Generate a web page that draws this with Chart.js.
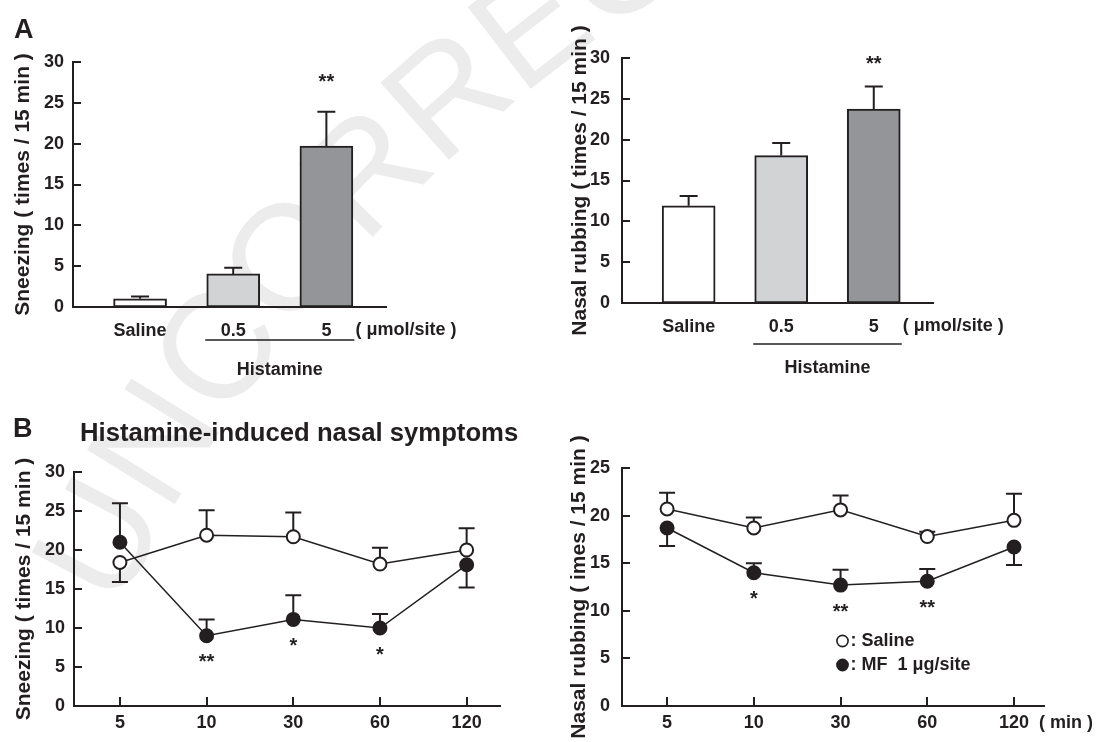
<!DOCTYPE html>
<html>
<head>
<meta charset="utf-8">
<script src="https://cdn.jsdelivr.net/npm/chart.js@4.4.0/dist/chart.umd.min.js"></script>
<style>
  html, body { margin: 0; padding: 0; background: #fff; }
  #wrap { position: relative; width: 1096px; height: 742px; overflow: hidden; }
  #wrap canvas { position: absolute; left: 0; top: 0; }
</style>
</head>
<body>
<div id="wrap">
  <canvas id="sneezeBar" width="1096" height="742"></canvas>
  <canvas id="rubBar" width="1096" height="742"></canvas>
  <canvas id="sneezeTime" width="1096" height="742"></canvas>
  <canvas id="rubTime" width="1096" height="742"></canvas>
</div>
<script>
// A: dose response, 15 min after histamine
const doseLabels = ['Saline', '0.5', '5'];
const sneezeDose = [1.0, 4.05, 19.7];
const sneezeDoseErr = [1.3, 4.8, 23.9];      // top of the SEM bar
const sneezeDoseSig = ['', '', '**'];
const rubDose = [11.9, 18.05, 23.75];
const rubDoseErr = [13.1, 19.6, 26.5];
const rubDoseSig = ['', '', '**'];

// B: time course (min)
const timeLabels = ['5', '10', '30', '60', '120'];
const seriesNames = ['Saline', 'MF  1 μg/site'];
const sneezeSaline = [18.4, 21.9, 21.7, 18.2, 20.0];
const sneezeSalineErr = [15.9, 25.1, 24.8, 20.3, 22.8];   // end of the SEM bar
const sneezeMF = [21.0, 9.0, 11.1, 10.0, 18.1];
const sneezeMFErr = [26.0, 11.1, 14.2, 11.8, 15.2];
const sneezeMFSig = ['', '**', '*', '*', ''];
const rubSaline = [20.7, 18.7, 20.6, 17.8, 19.5];
const rubSalineErr = [22.4, 19.8, 22.1, 18.3, 22.3];
const rubMF = [18.7, 14.0, 12.7, 13.1, 16.7];
const rubMFErr = [16.8, 15.0, 14.3, 14.4, 14.8];
const rubMFSig = ['', '*', '**', '**', ''];

const ticks30 = [0, 5, 10, 15, 20, 25, 30];
const ticks25 = [0, 5, 10, 15, 20, 25];

const INK = '#231f20';
const FONT = '"Liberation Sans", Arial, Helvetica, sans-serif';
Chart.defaults.font.family = FONT;
Chart.defaults.color = INK;
Chart.defaults.animation = false;

const pts = arr => arr.map((v, i) => ({x: i, y: v}));

function yScale(ticks, max, title, width, pad) {
  return {
    min: 0, max: max,
    afterBuildTicks: s => { s.ticks = ticks.map(v => ({value: v})); },
    afterFit: s => { s.width = width; },
    grid: {display: false, drawTicks: false},
    border: {display: true, color: INK, width: 2},
    ticks: {padding: pad, color: INK, font: {size: 18, weight: 'bold'}},
    title: {display: true, text: title, color: INK, font: {size: 21, weight: 'bold'}, padding: {top: 6, bottom: 0}}
  };
}

function xScale(labels, min, max, pad) {
  return {
    type: 'linear', min: min, max: max, offset: false,
    afterBuildTicks: s => { s.ticks = labels.map((l, i) => ({value: i})); },
    afterFit: s => { s.height = 30; },
    grid: {display: false, drawTicks: false, offset: false},
    border: {display: true, color: INK, width: 2},
    ticks: {padding: pad, color: INK, maxRotation: 0, autoSkip: false, font: {size: 18, weight: 'bold'},
            callback: v => labels[v]}
  };
}

// short tick marks pointing into the plot
const innerTicks = {
  id: 'innerTicks',
  afterDraw(chart, args, opts) {
    const {ctx, chartArea: a, scales: {x, y}} = chart;
    ctx.save();
    ctx.strokeStyle = INK;
    ctx.lineWidth = 2;
    ctx.beginPath();
    y.ticks.forEach(t => {
      const py = Math.round(y.getPixelForValue(t.value));
      ctx.moveTo(a.left, py); ctx.lineTo(a.left + 8, py);
    });
    if (opts.x) {
      x.ticks.forEach(t => {
        const px = Math.round(x.getPixelForValue(t.value));
        ctx.moveTo(px, a.bottom); ctx.lineTo(px, a.bottom - 9);
      });
    }
    ctx.stroke();
    ctx.restore();
  }
};

// SEM bars, drawn under the marks
const errorBars = {
  id: 'errorBars',
  beforeDatasetsDraw(chart, args, opts) {
    const {ctx, scales: {x, y}} = chart;
    ctx.save();
    ctx.strokeStyle = INK;
    ctx.lineWidth = 2;
    chart.data.datasets.forEach(ds => {
      if (!ds.errEnd) return;
      ds.data.forEach((p, i) => {
        const px = x.getPixelForValue(p.x);
        const y0 = y.getPixelForValue(p.y);
        const y1 = y.getPixelForValue(ds.errEnd[i]);
        ctx.beginPath();
        ctx.moveTo(px, y0); ctx.lineTo(px, y1);
        ctx.moveTo(px - opts.cap / 2, y1); ctx.lineTo(px + opts.cap / 2, y1);
        ctx.stroke();
      });
    });
    ctx.restore();
  }
};

const sigMarks = {
  id: 'sigMarks',
  afterDatasetsDraw(chart, args, opts) {
    const {ctx, scales: {x, y}} = chart;
    ctx.save();
    ctx.font = 'bold 20px ' + FONT;
    ctx.fillStyle = INK;
    ctx.textAlign = 'center';
    ctx.textBaseline = 'alphabetic';
    chart.data.datasets.forEach(ds => {
      if (!ds.sig) return;
      ds.sig.forEach((s, i) => {
        if (!s) return;
        const px = x.getPixelForValue(i);
        const cy = opts.above ? y.getPixelForValue(ds.errEnd[i]) - opts.dy
                              : y.getPixelForValue(ds.data[i].y) + opts.dy;
        ctx.fillText(s, px, cy + 11.5);
      });
    });
    ctx.restore();
  }
};

// "Histamine" bracket and dose unit under panel A
const doseNotes = {
  id: 'doseNotes',
  afterDraw(chart, args, opts) {
    const {ctx, chartArea: a, scales: {x}} = chart;
    const x0 = x.getPixelForValue(1) - 28, x1 = x.getPixelForValue(2) + 28;
    ctx.save();
    ctx.strokeStyle = INK;
    ctx.lineWidth = 1.5;
    ctx.beginPath();
    ctx.moveTo(x0, a.bottom + opts.lineDy); ctx.lineTo(x1, a.bottom + opts.lineDy);
    ctx.stroke();
    ctx.fillStyle = INK;
    ctx.font = 'bold 18px ' + FONT;
    ctx.textBaseline = 'middle';
    ctx.textAlign = 'center';
    ctx.fillText('Histamine', (x0 + x1) / 2, a.bottom + opts.textDy);
    ctx.textAlign = 'left';
    ctx.fillText('( μmol/site )', x1 + 1, a.bottom + 23);
    ctx.restore();
  }
};

// panel letters, title and the faint proof watermark
const pageNotes = {
  id: 'pageNotes',
  beforeDraw(chart) {
    const ctx = chart.ctx;
    const cx = 1490, cy = 1271, R = 1522;
    ctx.save();
    ctx.font = '150px ' + FONT;
    ctx.fillStyle = '#ececec';
    ctx.textBaseline = 'alphabetic';
    let ang = 205.7 * Math.PI / 180;
    for (const ch of 'UNCORRECTED') {
      const w = ctx.measureText(ch).width;
      const mid = ang + (w / 2) / R;
      ctx.save();
      ctx.translate(cx + R * Math.cos(mid), cy + R * Math.sin(mid));
      ctx.rotate(mid + Math.PI / 2);
      ctx.fillText(ch, -w / 2, 0);
      ctx.restore();
      ang += w / R;
    }
    ctx.restore();
  },
  afterDraw(chart) {
    const ctx = chart.ctx;
    ctx.save();
    ctx.fillStyle = INK;
    ctx.textBaseline = 'alphabetic';
    ctx.textAlign = 'left';
    ctx.font = 'bold 27px ' + FONT;
    ctx.fillText('A', 14, 37.5);
    ctx.fillText('B', 13, 437);
    ctx.font = 'bold 25.7px ' + FONT;
    ctx.fillText('Histamine-induced nasal symptoms', 80, 441);
    ctx.restore();
  }
};

const timeNotes = {
  id: 'timeNotes',
  afterDraw(chart, args, opts) {
    const {ctx, chartArea: a, scales: {x}} = chart;
    ctx.save();
    ctx.fillStyle = INK;
    ctx.textBaseline = 'middle';
    ctx.textAlign = 'left';
    ctx.font = 'bold 18px ' + FONT;
    ctx.fillText('( min )', x.getPixelForValue(timeLabels.length - 1) + 25, a.bottom + 17.5);
    // legend
    let ly = a.bottom - 65;
    const lx = a.left + 220.5;
    chart.data.datasets.forEach(ds => {
      ctx.beginPath();
      ctx.arc(lx, ly, 5.6, 0, Math.PI * 2);
      ctx.fillStyle = ds.pointBackgroundColor;
      ctx.fill();
      ctx.lineWidth = 1.6;
      ctx.strokeStyle = INK;
      ctx.stroke();
      ctx.fillStyle = INK;
      ctx.fillText(': ' + ds.label, lx + 8, ly);
      ly += 24;
    });
    ctx.restore();
  }
};

function barChart(id, values, errs, sig, title, pad, lineDy, textDy, sigDy, yWidth, yPad) {
  return new Chart(document.getElementById(id), {
    type: 'bar',
    data: {
      datasets: [{
        data: pts(values),
        errEnd: errs,
        sig: sig,
        backgroundColor: ['#ffffff', '#d1d3d4', '#939598'],
        borderColor: INK,
        borderWidth: 2,
        borderSkipped: false,
        barThickness: 53
      }]
    },
    options: {
      responsive: false,
      layout: {padding: pad},
      scales: {
        x: xScale(doseLabels, -0.72, 2.64, 13.7),
        y: yScale(ticks30, 30, title, yWidth, yPad)
      },
      plugins: {
        legend: {display: false},
        tooltip: {enabled: false},
        innerTicks: {x: false},
        errorBars: {cap: 18},
        sigMarks: {above: true, dy: sigDy},
        doseNotes: {lineDy: lineDy, textDy: textDy}
      }
    },
    plugins: id === 'sneezeBar' ? [pageNotes, errorBars, innerTicks, sigMarks, doseNotes]
                                : [errorBars, innerTicks, sigMarks, doseNotes]
  });
}

function timeChart(id, saline, salineErr, mf, mfErr, sig, ticks, max, title, pad, xMin, xMax, yWidth, yPad, extra) {
  const line = (label, data, err, fill, s) => ({
    label: label,
    data: pts(data),
    errEnd: err,
    sig: s,
    borderColor: INK,
    borderWidth: 1.5,
    pointRadius: 6.5,
    pointBorderWidth: 2,
    pointBorderColor: INK,
    pointBackgroundColor: fill,
    tension: 0
  });
  return new Chart(document.getElementById(id), {
    type: 'line',
    data: {
      datasets: [
        line(seriesNames[0], saline, salineErr, '#ffffff', null),
        line(seriesNames[1], mf, mfErr, INK, sig)
      ]
    },
    options: {
      responsive: false,
      layout: {padding: pad},
      scales: {
        x: xScale(timeLabels, xMin, xMax, 6.7),
        y: yScale(ticks, max, title, yWidth, yPad)
      },
      plugins: {
        legend: {display: false},
        tooltip: {enabled: false},
        innerTicks: {x: true},
        errorBars: {cap: 16},
        sigMarks: {above: false, dy: 21}
      }
    },
    plugins: [errorBars, innerTicks, sigMarks].concat(extra)
  });
}

barChart('sneezeBar', sneezeDose, sneezeDoseErr, sneezeDoseSig, 'Sneezing ( times / 15 min )',
  {left: 4.4, top: 62, right: 710, bottom: 405}, 33, 63, 35, 68.6, 9);
barChart('rubBar', rubDose, rubDoseErr, rubDoseSig, 'Nasal rubbing ( times / 15 min )',
  {left: 561.4, top: 58, right: 163, bottom: 409}, 41, 65, 28, 60.6, 12);
timeChart('sneezeTime', sneezeSaline, sneezeSalineErr, sneezeMF, sneezeMFErr, sneezeMFSig, ticks30, 30,
  'Sneezing ( times / 15 min )', {left: 5.9, top: 472, right: 596, bottom: 6}, -0.53, 4.385, 68.1, 9, []);
timeChart('rubTime', rubSaline, rubSalineErr, rubMF, rubMFErr, rubMFSig, ticks25, 25,
  'Nasal rubbing ( imes / 15 min )', {left: 560.4, top: 468, right: 52, bottom: 6}, -0.52, 4.346, 61.6, 12, [timeNotes]);
</script>
</body>
</html>
